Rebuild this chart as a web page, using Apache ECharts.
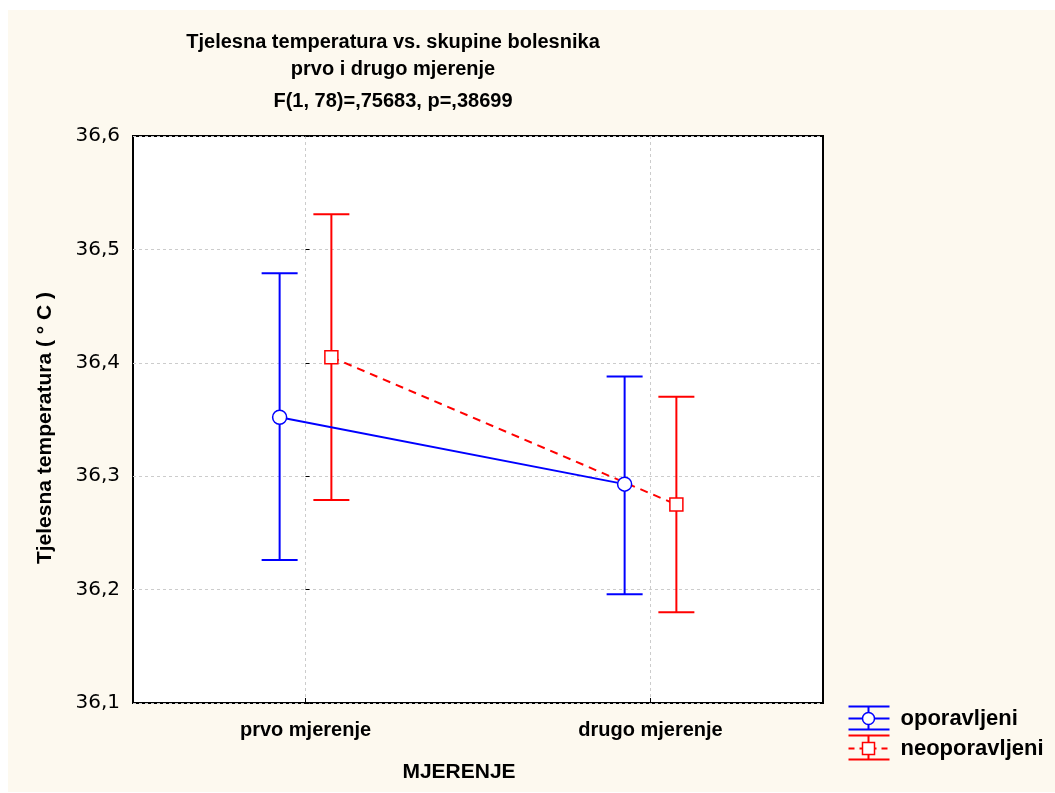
<!DOCTYPE html>
<html>
<head>
    <meta charset="UTF-8">
    <title>Tjelesna temperatura</title>
    <script src="https://cdn.jsdelivr.net/npm/echarts@6/dist/echarts.min.js"></script>
    <style>
        body { margin: 0; background: #ffffff; }
        #bg { position: absolute; left: 8px; top: 10px; width: 1047px; height: 782px; background: #fdf9ef; }
        #chart { position: absolute; left: 0; top: 0; width: 1055px; height: 793px; }
    </style>
</head>
<body>
    <div id="bg"></div>
    <div id="chart"></div>

    <script>
        // data
        var categories = ['prvo mjerenje', 'drugo mjerenje'];
        var oporavljeniMean = [36.352, 36.293];
        var oporavljeniLow = [36.226, 36.196];
        var oporavljeniHigh = [36.479, 36.388];
        var neoporavljeniMean = [36.405, 36.275];
        var neoporavljeniLow = [36.279, 36.180];
        var neoporavljeniHigh = [36.531, 36.370];

        var FONT = '"Liberation Sans", Arial, sans-serif';
        var OFF = 0.075;   // horizontal shift of each group from the category centre
        var BLUE = '#0000ff', RED = '#ff0000';

        function points(mean, shift) {
            return mean.map(function (v, i) { return [i + shift, v]; });
        }
        function bars(low, high, shift) {
            return low.map(function (v, i) { return [i + shift, v, high[i]]; });
        }

        function errorBar(color) {
            return function (params, api) {
                var lo = api.coord([api.value(0), api.value(1)]);
                var hi = api.coord([api.value(0), api.value(2)]);
                var w = 18;
                var st = { stroke: color, lineWidth: 2 };
                return {
                    type: 'group',
                    children: [
                        { type: 'line', shape: { x1: lo[0], y1: lo[1], x2: hi[0], y2: hi[1] }, style: st },
                        { type: 'line', shape: { x1: lo[0] - w, y1: lo[1], x2: lo[0] + w, y2: lo[1] }, style: st },
                        { type: 'line', shape: { x1: hi[0] - w, y1: hi[1], x2: hi[0] + w, y2: hi[1] }, style: st }
                    ]
                };
            };
        }

        function label(txt, x, y, size) {
            return { type: 'text', x: x, y: y, style: { text: txt, align: 'center', verticalAlign: 'middle', font: 'bold ' + size + 'px ' + FONT, fill: '#000' } };
        }

        var chart = echarts.init(document.getElementById('chart'), null, {renderer: 'canvas'});

        var option = {
            backgroundColor: 'transparent',
            animation: false,
            grid: { left: 133, top: 136, right: 232, bottom: 90, show: true, backgroundColor: '#ffffff', borderColor: '#000000', borderWidth: 2 },
            xAxis: [{
                type: 'category',
                data: categories,
                axisLine: { show: false },
                axisTick: { show: true, inside: true, length: 5, alignWithLabel: true, lineStyle: { color: '#000' } },
                splitLine: { show: true, alignWithLabel: true, lineStyle: { color: '#cccccc', type: [3, 3], width: 1 } },
                axisLabel: { color: '#000', fontFamily: FONT, fontWeight: 'bold', fontSize: 20, margin: 17 }
            }, {
                type: 'value',
                min: -0.5, max: 1.5,
                show: false
            }],
            yAxis: {
                type: 'value',
                min: 36.1, max: 36.6, interval: 0.1,
                axisLine: { show: false },
                axisTick: { show: true, inside: true, length: 4, lineStyle: { color: '#000' } },
                splitLine: { lineStyle: { color: '#cccccc', type: [3, 3], width: 1 } },
                axisLabel: {
                    color: '#000', fontFamily: '"DejaVu Sans", sans-serif', fontSize: 20, margin: 13,
                    formatter: function (v) { return v.toFixed(1).replace('.', ','); }
                }
            },
            graphic: [
                label('Tjelesna temperatura vs. skupine bolesnika', 393, 42, 20),
                label('prvo i drugo mjerenje', 393, 69, 20),
                label('F(1, 78)=,75683, p=,38699', 393, 101, 20),
                label('MJERENJE', 459, 772, 21),
                {
                    type: 'text', x: 45, y: 428, rotation: Math.PI / 2,
                    style: { text: 'Tjelesna temperatura ( ° C )', align: 'center', verticalAlign: 'middle', font: 'bold 21px ' + FONT, fill: '#000' }
                },
                // legend
                {
                    type: 'group', left: 846, top: 704,
                    children: [
                        { type: 'line', shape: { x1: 0, y1: 1, x2: 41, y2: 1 }, style: { stroke: BLUE, lineWidth: 2 } },
                        { type: 'line', shape: { x1: 0, y1: 13, x2: 41, y2: 13 }, style: { stroke: BLUE, lineWidth: 2 } },
                        { type: 'line', shape: { x1: 0, y1: 24, x2: 41, y2: 24 }, style: { stroke: BLUE, lineWidth: 2 } },
                        { type: 'line', shape: { x1: 20, y1: 1, x2: 20, y2: 24 }, style: { stroke: BLUE, lineWidth: 2 } },
                        { type: 'circle', shape: { cx: 20, cy: 13, r: 6 }, style: { fill: '#fff', stroke: BLUE, lineWidth: 1.5 } },
                        { type: 'text', x: 52, y: 13, style: { text: 'oporavljeni', verticalAlign: 'middle', font: 'bold 22px ' + FONT, fill: '#000' } },

                        { type: 'line', shape: { x1: 0, y1: 30, x2: 41, y2: 30 }, style: { stroke: RED, lineWidth: 2 } },
                        { type: 'line', shape: { x1: 0, y1: 43, x2: 41, y2: 43 }, style: { stroke: RED, lineWidth: 2, lineDash: [6, 5] } },
                        { type: 'line', shape: { x1: 0, y1: 54, x2: 41, y2: 54 }, style: { stroke: RED, lineWidth: 2 } },
                        { type: 'line', shape: { x1: 20, y1: 30, x2: 20, y2: 54 }, style: { stroke: RED, lineWidth: 2 } },
                        { type: 'rect', shape: { x: 14, y: 37, width: 12, height: 12 }, style: { fill: '#fff', stroke: RED, lineWidth: 1.5 } },
                        { type: 'text', x: 52, y: 43, style: { text: 'neoporavljeni', verticalAlign: 'middle', font: 'bold 22px ' + FONT, fill: '#000' } }
                    ]
                }
            ],
            series: [{
                name: 'oporavljeni err',
                type: 'custom',
                xAxisIndex: 1,
                renderItem: errorBar(BLUE),
                data: bars(oporavljeniLow, oporavljeniHigh, -OFF),
                z: 3
            }, {
                name: 'neoporavljeni err',
                type: 'custom',
                xAxisIndex: 1,
                renderItem: errorBar(RED),
                data: bars(neoporavljeniLow, neoporavljeniHigh, OFF),
                z: 3
            }, {
                name: 'oporavljeni',
                type: 'line',
                xAxisIndex: 1,
                data: points(oporavljeniMean, -OFF),
                symbol: 'circle',
                symbolSize: 14,
                lineStyle: { color: BLUE, width: 2 },
                itemStyle: { color: '#ffffff', borderColor: BLUE, borderWidth: 1.5 },
                z: 4
            }, {
                name: 'neoporavljeni',
                type: 'line',
                xAxisIndex: 1,
                data: points(neoporavljeniMean, OFF),
                symbol: 'rect',
                symbolSize: 13,
                lineStyle: { color: RED, width: 2, type: [8, 6] },
                itemStyle: { color: '#ffffff', borderColor: RED, borderWidth: 1.5 },
                z: 4
            }]
        };

        chart.setOption(option);
    </script>
</body>
</html>
